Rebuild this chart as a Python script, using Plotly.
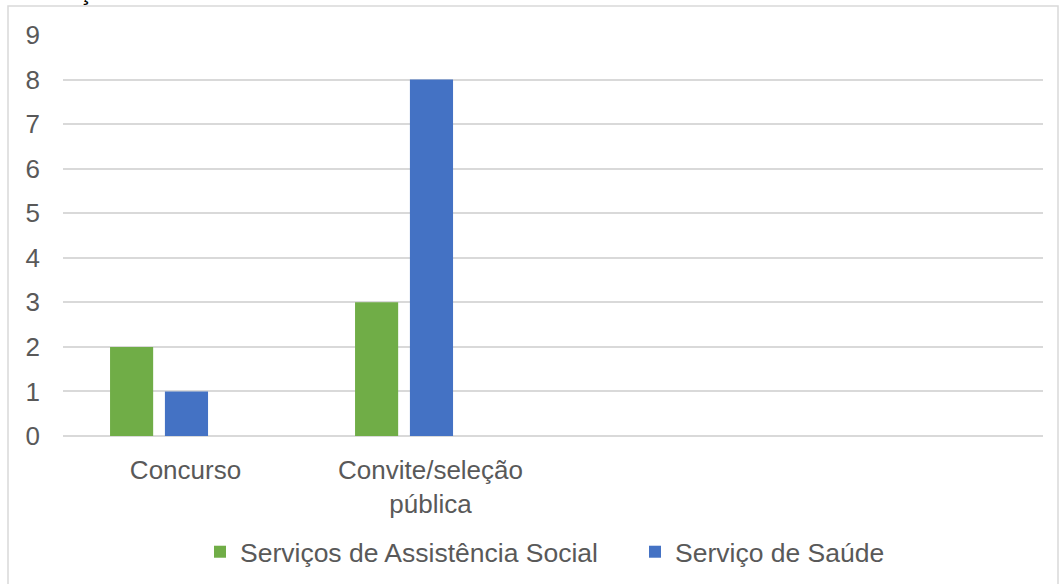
import plotly.graph_objects as go

# Categories and series values
categories = ["Concurso", "Convite/seleção<br>pública"]
assistencia_social = [2, 3]
saude = [1, 8]
series_names = ["Serviços de Assistência Social", "Serviço de Saúde"]
y_ticks = list(range(0, 10))

GREEN = "#70AD47"
BLUE = "#4472C4"
TEXT = "#595959"
GRID = "#D9D9D9"
FONT = "Liberation Sans, Arial, sans-serif"

# Plot area in pixels (figure is 1059 x 584)
W, H = 1059, 584
L, R, T, B = 63, 16, 35, 148
pw, ph = W - L - R, H - T - B

# Bar geometry in category units (4 category slots, last two empty)
bar_w = 0.176
offsets = [-0.308, -0.084]

fig = go.Figure()
for name, vals, color, off in zip(series_names, [assistencia_social, saude],
                                  [GREEN, BLUE], offsets):
    fig.add_trace(go.Bar(
        x=categories, y=vals, name=name,
        marker=dict(color=color, line=dict(width=0)),
        width=bar_w, offset=off,
    ))

def px_to_paper_x(px):
    return (px - L) / pw

def px_to_paper_y(py):
    return (H - B - py) / ph

fig.update_layout(
    width=W, height=H,
    margin=dict(l=L, r=R, t=T, b=B, pad=0, autoexpand=False),
    paper_bgcolor="white", plot_bgcolor="white",
    barmode="overlay",
    font=dict(family=FONT, size=26, color=TEXT),
    showlegend=True,
    legend=dict(
        orientation="h",
        x=px_to_paper_x(200), xanchor="left",
        y=px_to_paper_y(552), yanchor="middle",
        font=dict(family=FONT, size=26.5, color=TEXT),
        itemwidth=30, tracegroupgap=0,
        entrywidth=390, entrywidthmode="pixels",
        traceorder="normal",
        bgcolor="rgba(0,0,0,0)",
    ),
    xaxis=dict(
        type="category",
        range=[-0.5, 3.5],
        showgrid=False, zeroline=False,
        showline=False, ticks="",
        tickfont=dict(family=FONT, size=26, color=TEXT),
        ticklabelstandoff=16,
    ),
    yaxis=dict(
        range=[0, 9],
        tickvals=y_ticks,
        showgrid=True, gridcolor=GRID, gridwidth=1.5,
        zeroline=True, zerolinecolor=GRID, zerolinewidth=1.5,
        showline=False, ticks="",
        tickfont=dict(family=FONT, size=26, color=TEXT),
        ticklabelstandoff=22,
    ),
    shapes=[dict(
        type="rect", xref="paper", yref="paper",
        x0=px_to_paper_x(8), x1=px_to_paper_x(1058),
        y0=px_to_paper_y(590), y1=px_to_paper_y(6),
        line=dict(color=GRID, width=1.5), fillcolor="rgba(0,0,0,0)",
        layer="below",
    )],
    annotations=[dict(
        text="Ç", xref="paper", yref="paper",
        x=px_to_paper_x(85), xanchor="center",
        y=px_to_paper_y(7), yanchor="bottom",
        showarrow=False,
        font=dict(family=FONT, size=25, color="#000000"),
    )],
)

fig.write_html("out.html")
